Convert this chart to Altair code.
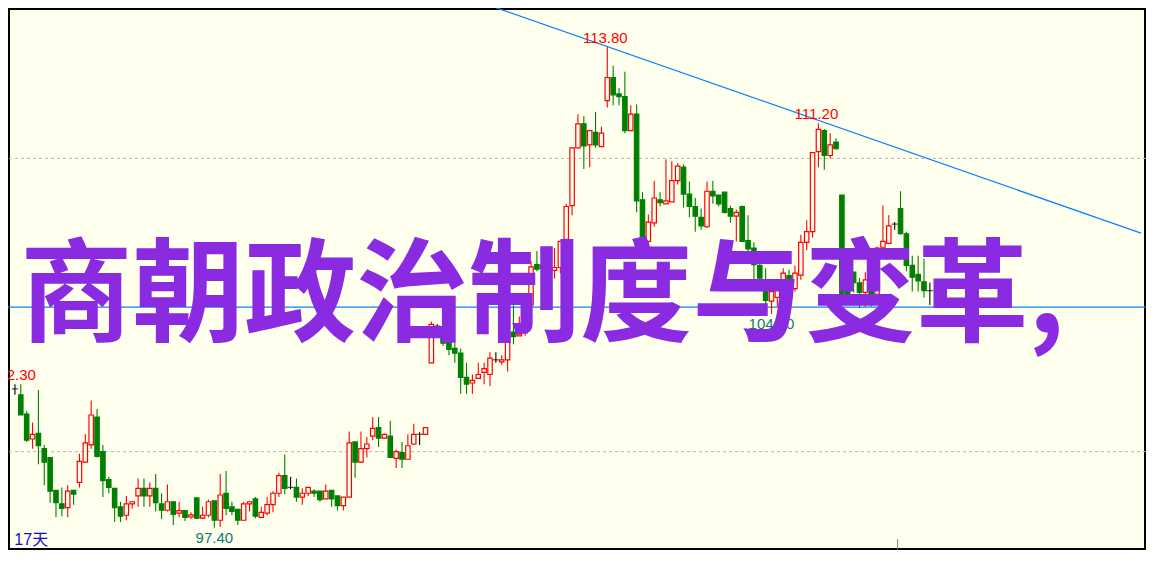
import altair as alt
import pandas as pd

# ---- candle data (index = trading day, left to right) ----
opens = [102.14,101.94,101.28,100.43,100.62,100.10,99.80,98.68,98.22,98.09,
         98.68,98.95,99.64,100.23,101.18,100.00,99.05,98.75,98.12,97.83,
         98.22,98.49,98.75,98.49,98.75,98.22,98.00,98.29,97.90,97.99,
         97.77,98.42,97.73,97.83,98.32,97.66,98.58,98.12,98.03,97.66,
         98.22,98.39,97.76,97.90,98.19,98.58,99.18,98.78,98.78,98.45,
         98.58,98.65,98.65,98.39,98.68,98.49,98.16,98.45,100.33,99.64,
         100.10,100.53,100.82,100.46,100.53,99.77,99.97,99.74,100.26,100.59,
         100.59,103.03,104.28,104.25,103.72,103.52,103.36,102.53,102.34,102.50,
         102.70,102.63,103.13,103.06,103.13,104.08,103.95,104.05,105.00,106.38,
         106.25,106.10,106.18,106.28,107.24,108.39,110.36,111.18,110.46,110.89,
         110.40,111.97,112.76,112.20,112.11,110.95,111.51,108.59,107.17,107.80,
         108.59,108.45,108.52,109.24,109.70,108.78,108.36,107.99,107.67,108.88,
         108.75,108.85,108.29,108.03,108.36,107.20,106.94,106.35,105.86,105.13,
         105.26,105.59,106.00,105.56,106.02,107.14,107.50,110.23,110.95,110.10,
         110.56,108.75,105.50,106.12,105.76,105.43,105.92,105.36,106.97,107.10,
         107.76,108.29,107.43,106.35,106.05,105.79,105.49]
highs = [102.30,102.30,101.38,100.99,102.10,100.23,99.80,98.68,98.78,98.85,
         98.68,99.93,100.59,101.74,101.45,100.23,99.14,98.75,98.29,98.49,
         98.32,99.08,99.08,98.95,99.24,98.58,98.88,98.29,98.29,97.99,
         97.93,98.42,98.12,98.36,98.32,99.24,99.34,98.29,98.03,98.29,
         98.32,98.45,98.12,98.45,98.65,99.28,99.90,99.14,99.08,98.75,
         98.78,98.72,98.65,98.88,98.68,98.49,98.45,100.69,100.33,100.69,
         100.50,101.18,101.18,100.62,101.05,100.07,100.33,100.59,100.95,100.66,
         100.82,104.44,104.34,104.37,104.37,103.72,103.52,103.03,102.63,103.03,
         103.03,103.39,103.39,103.29,104.08,104.99,104.61,105.10,106.50,106.84,
         106.45,106.90,106.94,107.17,108.45,110.36,111.51,111.45,110.95,111.58,
         111.08,113.80,113.16,112.40,112.96,111.81,111.84,108.85,108.09,109.24,
         108.85,109.97,109.90,109.84,109.80,109.21,108.65,108.29,109.21,109.24,
         108.75,108.85,108.39,108.26,108.39,108.06,107.14,106.81,106.25,105.82,
         105.90,106.25,106.20,106.35,107.40,107.89,110.20,111.20,111.00,110.86,
         110.69,108.75,105.70,106.12,105.92,106.12,106.00,107.00,108.39,108.06,
         107.83,108.88,107.50,106.68,106.68,106.58,105.76]
lows = [101.94,101.25,100.33,100.10,99.57,98.85,98.26,97.76,97.80,97.76,
        98.19,98.78,99.61,100.10,99.80,98.45,98.58,97.60,97.60,97.66,
        98.06,98.12,98.12,98.12,97.96,97.70,97.96,97.50,97.76,97.63,
        97.70,97.70,97.70,97.76,97.40,97.43,97.83,97.83,97.50,97.66,
        97.96,97.73,97.73,97.83,97.93,98.45,98.55,98.72,98.29,98.19,
        98.49,98.45,98.29,98.39,98.12,97.99,97.99,98.45,99.11,99.61,
        99.80,100.39,100.16,100.43,99.80,99.44,99.44,99.74,100.23,100.23,
        100.59,103.03,104.21,103.60,103.29,103.03,101.97,101.97,101.97,102.50,
        102.30,102.24,103.03,102.96,102.73,103.66,103.95,103.95,104.90,106.15,
        106.15,106.00,105.90,106.08,106.97,108.06,110.36,109.64,109.70,110.36,
        110.40,111.74,111.81,111.81,110.86,110.95,108.16,107.01,107.01,107.67,
        108.36,108.45,108.52,109.11,108.32,107.99,107.50,107.57,107.63,108.45,
        108.36,108.12,107.80,107.17,107.17,106.81,105.80,105.69,104.93,104.70,
        104.95,105.46,105.50,105.46,105.86,106.87,107.30,109.70,109.61,110.00,
        110.30,105.30,105.00,105.43,104.90,104.93,104.95,105.30,106.90,107.10,
        107.57,107.40,106.15,105.46,105.46,105.26,105.00]
closes = [102.14,101.25,100.39,100.59,100.20,99.64,98.65,98.26,98.06,98.65,
          98.55,99.67,100.30,101.25,99.84,99.01,98.78,98.09,97.80,98.22,
          98.29,98.75,98.49,98.75,98.26,98.00,98.29,97.86,97.99,97.76,
          97.84,97.73,97.83,98.29,97.66,98.52,98.06,97.96,97.66,98.22,
          98.29,97.80,97.93,98.19,98.58,99.18,98.75,98.78,98.45,98.58,
          98.78,98.58,98.36,98.65,98.39,98.16,98.45,100.30,99.64,100.10,
          100.26,100.79,100.46,100.59,99.80,100.00,99.74,100.20,100.59,100.59,
          100.82,104.34,104.28,103.70,103.49,103.36,102.53,102.30,102.43,102.63,
          102.83,103.19,103.13,103.13,104.05,103.92,104.01,105.00,106.30,106.22,
          106.35,106.50,106.28,107.17,108.36,110.36,111.18,110.43,110.95,110.46,
          110.86,112.76,112.17,112.11,110.95,111.51,108.55,107.14,107.83,108.65,
          108.49,108.55,109.24,109.74,108.78,108.36,108.03,107.70,108.88,108.72,
          108.45,108.16,108.03,108.16,107.17,106.91,106.38,105.92,105.16,105.46,
          105.59,106.09,105.76,106.09,107.14,107.50,110.20,110.99,110.10,110.46,
          110.33,105.40,105.20,105.76,105.43,105.86,105.36,106.94,107.17,107.70,
          107.76,107.43,106.35,105.95,105.82,105.49,105.49]

# ---- annotations ----
hi_label_idx = [0, 101, 137]
hi_label_val = [102.30, 113.80, 111.20]
lo_label_idx = [34, 129]
lo_label_val = [97.40, 104.70]
grid_levels = [110.0, 100.0]
support_level = [104.93]
trend_idx = [80, 192]
trend_val = [115.28, 107.45]
sep_idx = [150.5]
title_text = "商朝政治制度与变革,"

BG = "#ffffee"
RED = "#ff0000"
GREEN = "#008000"
BLUE = "#0a80ff"

kinds = []
for o, c in zip(opens, closes):
    if abs(c - o) < 1e-9:
        kinds.append("doji")
    elif c > o:
        kinds.append("up")
    else:
        kinds.append("down")

df = pd.DataFrame({"i": list(range(len(opens))), "open": opens, "high": highs,
                   "low": lows, "close": closes, "kind": kinds})

xs = alt.Scale(domain=[-0.33, 192.0], nice=False, zero=False)
ys = alt.Scale(domain=[96.645, 115.13], nice=False, zero=False)

kind_dom = ["up", "down", "doji"]
stroke_sc = alt.Scale(domain=kind_dom, range=[RED, GREEN, "#000000"])
fill_sc = alt.Scale(domain=kind_dom, range=[BG, GREEN, "#000000"])

X = alt.X("i:Q", scale=xs, axis=None)

grid = alt.Chart(pd.DataFrame({"p": grid_levels})).mark_rule(
    color="#b5b5b5", strokeDash=[3, 3], strokeWidth=1
).encode(y=alt.Y("p:Q", scale=ys, axis=None))

support = alt.Chart(pd.DataFrame({"p": support_level})).mark_rule(
    color=BLUE, strokeWidth=1.2
).encode(y=alt.Y("p:Q", scale=ys, axis=None))

trend = alt.Chart(pd.DataFrame({"i": trend_idx, "p": trend_val})).mark_line(
    color=BLUE, strokeWidth=1.2, clip=True
).encode(x=X, y=alt.Y("p:Q", scale=ys, axis=None))

base = alt.Chart(df)

wicks = base.mark_rule(strokeWidth=1.1, clip=True).encode(
    x=X,
    y=alt.Y("low:Q", scale=ys, axis=None),
    y2="high:Q",
    color=alt.Color("kind:N", scale=stroke_sc, legend=None),
)

bodies = base.transform_filter("datum.kind != 'doji'").mark_bar(
    size=4.4, strokeWidth=1.2, clip=True
).encode(
    x=X,
    y=alt.Y("open:Q", scale=ys, axis=None),
    y2="close:Q",
    fill=alt.Fill("kind:N", scale=fill_sc, legend=None),
    stroke=alt.Stroke("kind:N", scale=stroke_sc, legend=None),
)

doji = base.transform_filter("datum.kind == 'doji'").mark_tick(
    orient="horizontal", size=6, thickness=1.2, color="#000000", clip=True
).encode(x=X, y=alt.Y("open:Q", scale=ys, axis=None))

hi_labels = alt.Chart(pd.DataFrame({"i": hi_label_idx, "p": hi_label_val})).mark_text(
    font="Liberation Sans", fontSize=15, color=RED, baseline="alphabetic",
    align="center", dx=-2, dy=-4, clip=True
).encode(x=X, y=alt.Y("p:Q", scale=ys, axis=None), text=alt.Text("p:Q", format=".2f"))

lo_labels = alt.Chart(pd.DataFrame({"i": lo_label_idx, "p": lo_label_val})).mark_text(
    font="Liberation Sans", fontSize=15, color="#127a72", baseline="top",
    align="center", dy=3, clip=True
).encode(x=X, y=alt.Y("p:Q", scale=ys, axis=None), text=alt.Text("p:Q", format=".2f"))

days = alt.Chart(pd.DataFrame({"i": [-0.1], "p": [96.82], "t": ["17天"]})).mark_text(
    font="Liberation Sans, Noto Sans CJK SC", fontSize=16, color="#1010c8",
    baseline="alphabetic", align="left", clip=True
).encode(x=X, y=alt.Y("p:Q", scale=ys, axis=None), text="t:N")

sep = alt.Chart(pd.DataFrame({"i": sep_idx, "lo": [96.66], "hi": [97.02]})).mark_rule(
    color="#808080", strokeWidth=1
).encode(x=X, y=alt.Y("lo:Q", scale=ys, axis=None), y2="hi:Q")

title = alt.Chart(pd.DataFrame({"i": [0.9], "p": [105.2], "t": [title_text]})).mark_text(
    font="Noto Sans CJK SC", fontSize=112, fontWeight="bold", color="#8a2be2",
    align="left", baseline="middle"
).encode(x=X, y=alt.Y("p:Q", scale=ys, axis=None), text="t:N")

chart = alt.layer(
    grid, support, trend, wicks, bodies, doji, hi_labels, lo_labels, days, sep, title
).properties(
    width=1138, height=542, padding=0, background=BG,
    autosize=alt.AutoSizeParams(type="none"),
).configure_view(stroke="#000000", strokeWidth=4, fill=BG)

chart.save("out.html", embed_options={"renderer": "svg", "actions": False})
